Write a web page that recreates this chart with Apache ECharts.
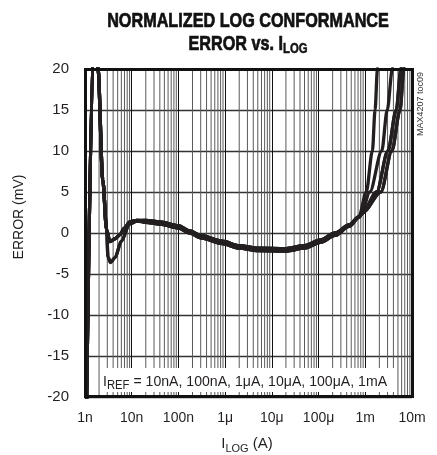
<!DOCTYPE html>
<html>
<head>
<meta charset="utf-8">
<script src="https://cdn.jsdelivr.net/npm/echarts@6/dist/echarts.min.js"></script>
<style>
html,body{margin:0;padding:0;background:#fff;}
#c{width:437px;height:455px;}
</style>
</head>
<body>
<div id="c"></div>
<script>
// ---- data (I in amperes, error in mV) ----
var xTickLabels = ['1n','10n','100n','1\u03bc','10\u03bc','100\u03bc','1m','10m'];
var yTicks = [-20,-15,-10,-5,0,5,10,15,20];
var irefNames = ['10nA','100nA','1\u03bcA','10\u03bcA','100\u03bcA','1mA'];

var leftRise = [[1.0e-9,-35],[1.55e-9,25],[1.75e-9,28],[1.9e-9,20],[2.4e-9,6.5],[2.9e-9,0.4]];
var leftShallow = [[3.4e-9,-1.05],[4.4e-9,-0.7],[5.6e-9,-0.2],[7e-9,0.6],[9.1e-9,1.35],[13e-9,1.55]];
var leftDeep = [[3.1e-9,-2.9],[3.5e-9,-3.6],[4.4e-9,-3.0],[6e-9,-1.0],[9e-9,1.1],[13e-9,1.45]];

var midA = [[20e-9,1.55],[40e-9,1.35],[100e-9,0.9],[175e-9,0.25],[300e-9,-0.3],[870e-9,-1.0],[2e-6,-1.55],[5e-6,-1.85],[20e-6,-1.9],[50e-6,-1.55],[110e-6,-0.85],[225e-6,0],[450e-6,1.0],[730e-6,2.0]];
var midB = [[20e-9,1.3],[40e-9,1.1],[100e-9,0.6],[175e-9,0.0],[300e-9,-0.6],[870e-9,-1.3],[2e-6,-1.85],[5e-6,-2.15],[20e-6,-2.2],[50e-6,-1.85],[110e-6,-1.15],[225e-6,-0.3],[450e-6,0.8],[730e-6,1.9]];

var tailA = [[1.05e-3,5],[1.42e-3,10],[1.62e-3,15],[1.82e-3,20],[2.0e-3,25]];
var tailB = [[0.82e-3,2.3],[1.25e-3,5],[2.25e-3,10],[2.95e-3,15],[3.8e-3,20],[4.4e-3,24]];
var tailC = [[0.86e-3,2.4],[1.75e-3,5],[3.05e-3,10],[4.6e-3,15],[5.8e-3,20],[6.6e-3,23]];
var tailD = [[0.9e-3,2.5],[2.15e-3,5],[3.7e-3,10],[5.55e-3,15],[6.7e-3,20],[7.5e-3,23]];

var curves = [
  leftRise.concat(leftShallow, midA, tailA),
  leftRise.concat(leftShallow, midB, tailB),
  leftRise.concat(leftDeep, midA, tailC),
  leftRise.concat(leftShallow, midB, tailD),
  leftRise.concat(leftDeep, midB, tailD),
  leftRise.concat(leftShallow, midA, tailC)
];

// minor grid positions (2..9 in each decade)
var minorGrid = [];
for (var d = -9; d < -2; d++) {
  for (var m = 2; m <= 9; m++) minorGrid.push([m * Math.pow(10, d), 0]);
}

var FONT = '"Liberation Sans", Arial, sans-serif';
var INK = '#231f20';
var chart = echarts.init(document.getElementById('c'));

var series = curves.map(function (c, i) {
  return {
    name: irefNames[i], type: 'line', data: c, symbol: 'none',
    smooth: 0.3, smoothMonotone: 'x', clip: true, z: 5,
    lineStyle: {color: INK, width: 3.3}
  };
});
series.unshift({
  type: 'custom', z: 1, silent: true, data: minorGrid,
  encode: {x: 0, y: 1},
  renderItem: function (params, api) {
    var v = api.value(0);
    var p1 = api.coord([v, 20]);
    var p2 = api.coord([v, -20]);
    return {type: 'line', shape: {x1: p1[0], y1: p1[1], x2: p2[0], y2: p2[1]},
      style: {stroke: '#5a5a5a', lineWidth: 1}};
  }
});

chart.setOption({
  animation: false,
  grid: {left: 85, right: 25, top: 69, bottom: 58, show: false},
  xAxis: {
    type: 'log', logBase: 10, min: 1e-9, max: 1e-2, splitNumber: 7,
    axisLine: {show: false}, axisTick: {show: false},
    axisLabel: {
      fontFamily: FONT, fontSize: 14, color: INK, margin: 14,
      formatter: function (v) { return xTickLabels[Math.round(Math.log10(v)) + 9]; }
    },
    splitLine: {show: true, lineStyle: {color: '#111', width: 1}}
  },
  yAxis: {
    type: 'value', min: -20, max: 20, interval: 5,
    axisLine: {show: false}, axisTick: {show: false},
    axisLabel: {fontFamily: FONT, fontSize: 15, color: INK, margin: 16},
    splitLine: {show: true, lineStyle: {color: '#333', width: 1.3}}
  },
  series: series,
  graphic: [
    {type: 'rect', z: 10, shape: {x: 85.5, y: 69.5, width: 327, height: 327},
     style: {fill: 'none', stroke: '#111', lineWidth: 3}},
    {type: 'rect', z: 8, shape: {x: 100, y: 368, width: 294, height: 24},
     style: {fill: '#fff'}},
    {type: 'text', z: 9, x: 103, y: 382, scaleX: 0.94,
     style: {
       text: '{i|I}{s|REF}{i| = ' + irefNames.join(', ') + '}',
       verticalAlign: 'middle',
       rich: {
         i: {fontFamily: FONT, fontSize: 15, fill: INK, lineHeight: 20},
         s: {fontFamily: FONT, fontSize: 12, fill: INK, lineHeight: 12, verticalAlign: 'bottom'}
       }
     }},
    {type: 'text', x: 248, y: 21, scaleX: 0.81,
     style: {text: 'NORMALIZED LOG CONFORMANCE', fontFamily: FONT, fontWeight: 'bold',
       fontSize: 20, fill: '#111', stroke: '#111', lineWidth: 0.7,
       align: 'center', verticalAlign: 'middle'}},
    {type: 'text', x: 248, y: 44, scaleX: 0.81,
     style: {
       text: '{t|ERROR vs. I}{s|LOG}', align: 'center', verticalAlign: 'middle',
       rich: {
         t: {fontFamily: FONT, fontWeight: 'bold', fontSize: 20, fill: '#111', stroke: '#111', lineWidth: 0.7, lineHeight: 24},
         s: {fontFamily: FONT, fontWeight: 'bold', fontSize: 14, fill: '#111', stroke: '#111', lineWidth: 0.5, lineHeight: 14, verticalAlign: 'bottom'}
       }
     }},
    {type: 'text', x: 19, y: 217, rotation: Math.PI / 2,
     style: {text: 'ERROR (mV)', fontFamily: FONT, fontSize: 14, fill: INK,
       align: 'center', verticalAlign: 'middle'}},
    {type: 'text', x: 247, y: 444,
     style: {
       text: '{i|I}{s|LOG}{i| (A)}', align: 'center', verticalAlign: 'middle',
       rich: {
         i: {fontFamily: FONT, fontSize: 15, fill: INK, lineHeight: 20},
         s: {fontFamily: FONT, fontSize: 11, fill: INK, lineHeight: 11, verticalAlign: 'bottom'}
       }
     }},
    {type: 'text', x: 421, y: 104, rotation: Math.PI / 2,
     style: {text: 'MAX4207 toc09', fontFamily: FONT, fontSize: 9, fill: '#333',
       align: 'center', verticalAlign: 'middle'}}
  ]
});
</script>
</body>
</html>
